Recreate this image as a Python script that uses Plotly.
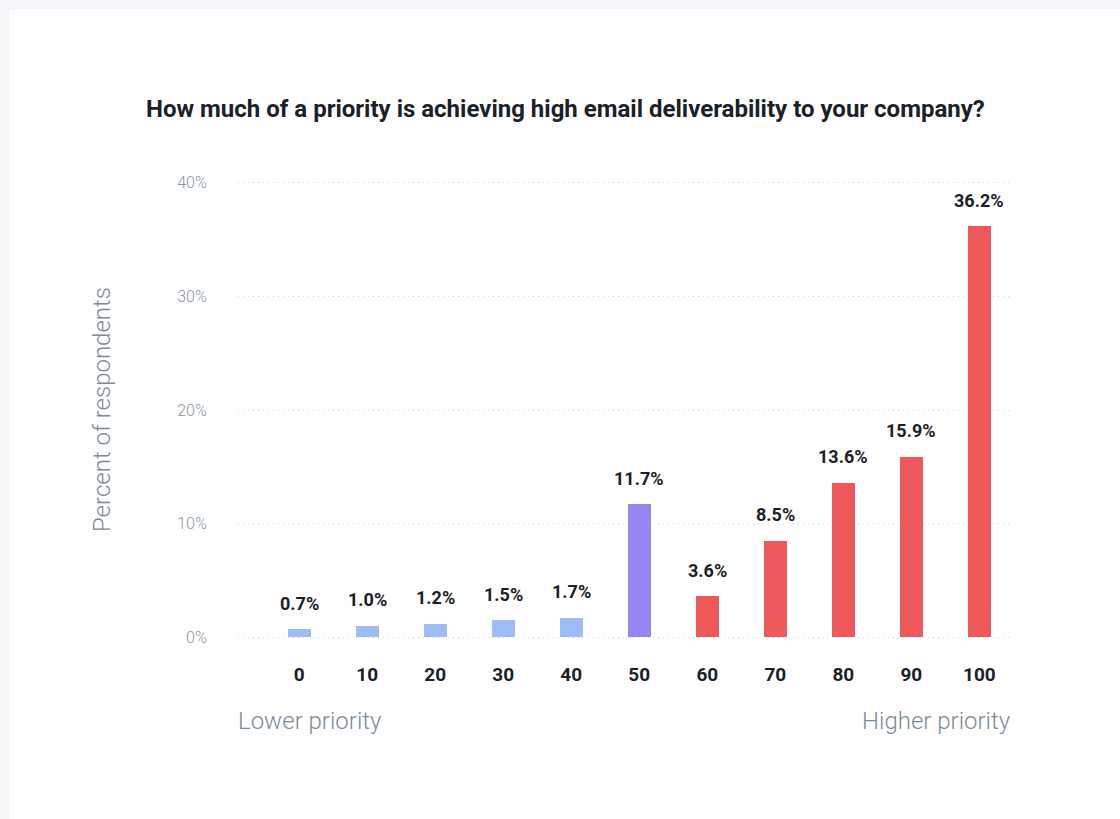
import plotly.graph_objects as go

categories = ["0", "10", "20", "30", "40", "50", "60", "70", "80", "90", "100"]
values = [0.7, 1.0, 1.2, 1.5, 1.7, 11.7, 3.6, 8.5, 13.6, 15.9, 36.2]
labels = ["0.7%", "1.0%", "1.2%", "1.5%", "1.7%", "11.7%", "3.6%", "8.5%", "13.6%", "15.9%", "36.2%"]
bar_colors = ["#9fbdf5"] * 5 + ["#9685f2"] + ["#ef585a"] * 5
y_ticks = [0, 10, 20, 30, 40]
y_tick_text = ["0%", "10%", "20%", "30%", "40%"]

W, H = 1120, 819
L, R, T, B = 238, 108, 180, 179
pw, ph = W - L - R, H - T - B

xs = list(range(len(categories)))

fig = go.Figure()
fig.add_trace(go.Bar(
    x=xs, y=values, width=0.34, marker=dict(color=bar_colors, line=dict(width=0)),
    hoverinfo="skip", showlegend=False,
))

annotations = []
for x, v, t in zip(xs, values, labels):
    annotations.append(dict(
        x=x, y=v, xref="x", yref="y", text=t, showarrow=False,
        yanchor="middle", yshift=26,
        font=dict(family="Roboto", size=18, color="#1b2127", weight="bold"),
    ))

label_y = (H - 721 - B) / ph
annotations.append(dict(
    x=0, y=label_y, xref="paper", yref="paper", text="Lower priority",
    showarrow=False, xanchor="left", yanchor="middle", xshift=-2,
    font=dict(family="Roboto", size=24, color="#7d8b97", weight=300),
))
annotations.append(dict(
    x=1, y=label_y, xref="paper", yref="paper", text="Higher priority",
    showarrow=False, xanchor="right", yanchor="middle", xshift=1,
    font=dict(family="Roboto", size=24, color="#7d8b97", weight=300),
))
annotations.append(dict(
    x=(565 - L) / pw, y=(H - 109 - B) / ph, xref="paper", yref="paper",
    text="How much of a priority is achieving high email deliverability to your company?",
    showarrow=False, xanchor="center", yanchor="middle",
    font=dict(family="Roboto", size=24, color="#1b2127", weight="bold"),
))
annotations.append(dict(
    x=(102 - L) / pw, y=(H - 410 - B) / ph, xref="paper", yref="paper",
    text="Percent of respondents", textangle=-90,
    showarrow=False, xanchor="center", yanchor="middle",
    font=dict(family="Roboto", size=24, color="#7d8b97", weight=300),
))

shapes = [dict(
    type="rect", xref="paper", yref="paper", layer="below",
    x0=(9 - L) / pw, x1=(W + 20 - L) / pw,
    y0=-(B + 20) / ph, y1=(H - 9 - B) / ph,
    fillcolor="white", line=dict(width=0),
)]

fig.update_layout(
    width=W, height=H,
    margin=dict(l=L, r=R, t=T, b=B),
    paper_bgcolor="#f4f6f9",
    plot_bgcolor="rgba(0,0,0,0)",
    bargap=0,
    annotations=annotations,
    shapes=shapes,
    xaxis=dict(
        range=[-0.9, 10.48], tickmode="array", tickvals=xs, ticktext=categories,
        showgrid=False, zeroline=False, showline=False,
        ticks="outside", ticklen=17, tickcolor="rgba(0,0,0,0)",
        tickfont=dict(family="Roboto", size=19, color="#1b2127", weight="bold"),
        fixedrange=True,
    ),
    yaxis=dict(
        range=[-0.25, 40.25], tickmode="array", tickvals=y_ticks, ticktext=y_tick_text,
        showgrid=True, gridcolor="#d3d8dd", griddash="1px,4px", gridwidth=1,
        zeroline=False, showline=False,
        ticks="outside", ticklen=27, tickcolor="rgba(0,0,0,0)",
        tickfont=dict(family="Roboto", size=16, color="#8a97a3", weight=300),
        fixedrange=True,
    ),
)

fig.write_html(
    "out.html",
    config={"displayModeBar": False},
    post_script="document.body.style.margin='0';document.body.style.overflow='hidden';",
)
